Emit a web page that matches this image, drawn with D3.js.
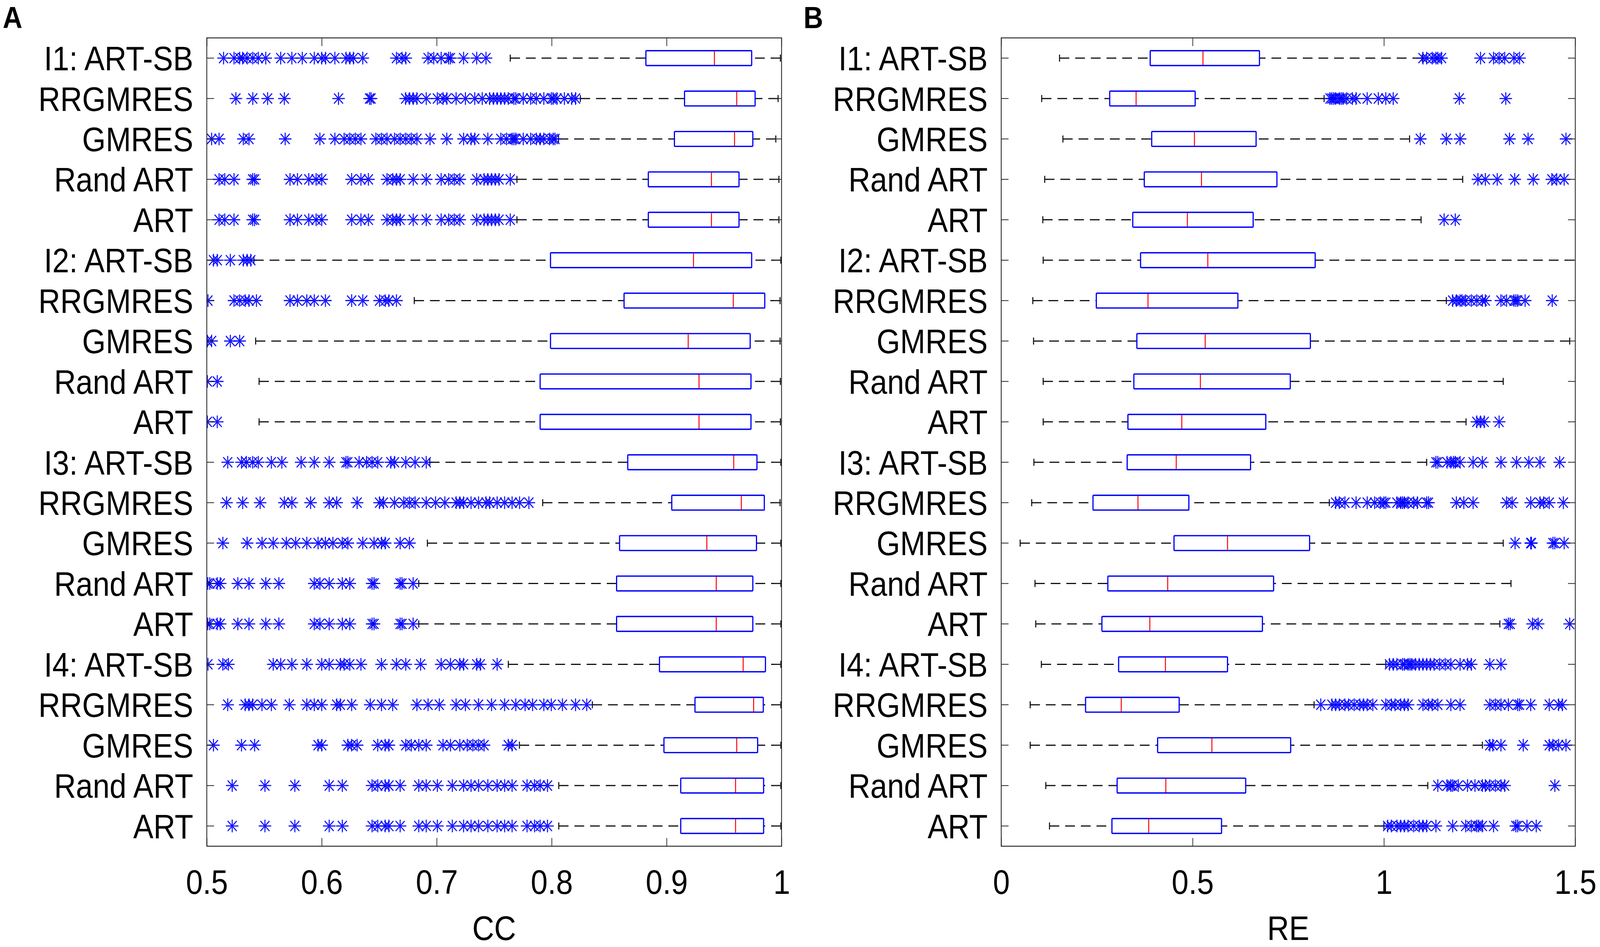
<!DOCTYPE html>
<html>
<head>
<meta charset="utf-8">
<script src="https://cdn.jsdelivr.net/npm/d3@7"></script>
<style>
  html, body { margin: 0; padding: 0; background: #fff; overflow: hidden; width: 100%; height: 100%; }
  svg { display: block; width: 100vw; height: 100vh; }
  text { font-family: "Liberation Sans", Arial, Helvetica, sans-serif; }
</style>
</head>
<body>
<svg id="chart" viewBox="0 0 4596 2424" preserveAspectRatio="none"></svg>
<script>
// ---------------- DATA ----------------
const categories = [
  "I1: ART-SB", "RRGMRES", "GMRES", "Rand ART", "ART",
  "I2: ART-SB", "RRGMRES", "GMRES", "Rand ART", "ART",
  "I3: ART-SB", "RRGMRES", "GMRES", "Rand ART", "ART",
  "I4: ART-SB", "RRGMRES", "GMRES", "Rand ART", "ART"
];

const ccTicks = [0.5, 0.6, 0.7, 0.8, 0.9, 1];
const ccTickLabels = ["0.5", "0.6", "0.7", "0.8", "0.9", "1"];
const reTicks = [0, 0.5, 1, 1.5];
const reTickLabels = ["0", "0.5", "1", "1.5"];

// Panel A: CC
const ccWhiskerLow  = [0.764, 0.825, 0.806, 0.7698, 0.7698, 0.541, 0.6805, 0.5425, 0.5455, 0.5455,
                       0.694, 0.7922, 0.6919, 0.6844, 0.6844, 0.7623, 0.8354, 0.772, 0.8062, 0.8062];
const ccQ1          = [0.882, 0.9156, 0.9068, 0.8841, 0.8841, 0.799, 0.863, 0.799, 0.790, 0.790,
                       0.8662, 0.9045, 0.8591, 0.8565, 0.8565, 0.8938, 0.9247, 0.8977, 0.9123, 0.9123];
const ccMedian      = [0.9416, 0.961, 0.9591, 0.939, 0.939, 0.9234, 0.958, 0.9188, 0.9282, 0.9282,
                       0.9584, 0.965, 0.935, 0.9432, 0.9432, 0.9666, 0.9757, 0.961, 0.960, 0.960];
const ccQ3          = [0.974, 0.977, 0.975, 0.963, 0.963, 0.974, 0.9854, 0.9727, 0.9734, 0.9734,
                       0.9786, 0.985, 0.9782, 0.975, 0.975, 0.986, 0.9841, 0.9792, 0.9844, 0.9844];
const ccWhiskerHigh = [0.999, 0.997, 0.995, 0.9977, 0.9977, 0.9994, 0.9987, 0.9987, 0.999, 0.999,
                       0.9994, 0.9987, 0.9994, 0.9994, 0.9994, 0.9994, 0.9994, 0.9994, 0.9994, 0.9994];
const ccOutliers = [
  [0.5146, 0.5237, 0.5286, 0.5312, 0.5351, 0.540, 0.5448, 0.5513, 0.5643, 0.574, 0.5831, 0.5935, 0.600, 0.6033, 0.6114, 0.6211, 0.6244, 0.6276, 0.6357, 0.665, 0.6698, 0.6731, 0.6925, 0.6974, 0.7039, 0.7104, 0.712, 0.7234, 0.7348, 0.7429],
  [0.5253, 0.540, 0.5529, 0.5675, 0.6146, 0.6416, 0.6429, 0.673, 0.6763, 0.6795, 0.6828, 0.6909, 0.7006, 0.7055, 0.7088, 0.7169, 0.725, 0.7331, 0.7396, 0.7461, 0.7494, 0.7526, 0.7558, 0.7591, 0.7623, 0.7672, 0.7688, 0.7753, 0.7818, 0.7867, 0.7932, 0.7997, 0.8013, 0.8046, 0.8111, 0.8175, 0.8208],
  [0.5042, 0.5107, 0.5318, 0.5367, 0.5682, 0.5984, 0.6114, 0.6195, 0.6244, 0.6292, 0.6341, 0.6471, 0.652, 0.6568, 0.6633, 0.6682, 0.6731, 0.6779, 0.6828, 0.6942, 0.7088, 0.7234, 0.7299, 0.7331, 0.7445, 0.7558, 0.7607, 0.7656, 0.7672, 0.7688, 0.7753, 0.7818, 0.7867, 0.790, 0.7932, 0.7981, 0.8013, 0.8029],
  [0.5107, 0.5156, 0.5237, 0.5399, 0.5416, 0.5724, 0.5789, 0.5887, 0.5951, 0.600, 0.626, 0.6341, 0.6406, 0.6568, 0.6617, 0.665, 0.6682, 0.6796, 0.6909, 0.7039, 0.7104, 0.7153, 0.7201, 0.7348, 0.7412, 0.7445, 0.7477, 0.751, 0.7542, 0.764],
  [0.5107, 0.5156, 0.5237, 0.5399, 0.5416, 0.5724, 0.5789, 0.5887, 0.5951, 0.600, 0.626, 0.6341, 0.6406, 0.6568, 0.6617, 0.665, 0.6682, 0.6796, 0.6909, 0.7039, 0.7104, 0.7153, 0.7201, 0.7348, 0.7412, 0.7445, 0.7477, 0.751, 0.7542, 0.764],
  [0.5058, 0.5091, 0.5205, 0.5318, 0.5351, 0.5383],
  [0.501, 0.5237, 0.5286, 0.5334, 0.5367, 0.5432, 0.5724, 0.5789, 0.587, 0.5935, 0.6032, 0.626, 0.6357, 0.6503, 0.6552, 0.6584, 0.665],
  [0.5005, 0.5042, 0.5205, 0.5286],
  [0.5005, 0.5091],
  [0.5005, 0.5091],
  [0.5182, 0.5302, 0.5344, 0.5399, 0.5448, 0.5562, 0.5653, 0.5821, 0.5935, 0.6065, 0.6211, 0.6227, 0.6325, 0.639, 0.6438, 0.6487, 0.6601, 0.6633, 0.6731, 0.6812, 0.6909],
  [0.5172, 0.5312, 0.5464, 0.5675, 0.574, 0.5903, 0.6065, 0.613, 0.6308, 0.6503, 0.6536, 0.6633, 0.6714, 0.6763, 0.6812, 0.6909, 0.699, 0.7071, 0.7169, 0.7201, 0.7234, 0.7299, 0.7364, 0.7429, 0.7461, 0.7526, 0.7591, 0.7656, 0.7721, 0.7802],
  [0.514, 0.5351, 0.5481, 0.5578, 0.5692, 0.5773, 0.587, 0.5968, 0.6032, 0.6097, 0.6179, 0.6227, 0.6357, 0.6455, 0.652, 0.6552, 0.6682, 0.6763],
  [0.5008, 0.5026, 0.5091, 0.5117, 0.527, 0.5367, 0.5513, 0.5627, 0.5935, 0.5984, 0.6065, 0.6179, 0.6244, 0.6438, 0.6455, 0.6682, 0.6698, 0.6795],
  [0.5008, 0.5026, 0.5091, 0.5117, 0.527, 0.5367, 0.5513, 0.5627, 0.5935, 0.5984, 0.6065, 0.6179, 0.6244, 0.6438, 0.6455, 0.6682, 0.6698, 0.6795],
  [0.501, 0.514, 0.5188, 0.5578, 0.5643, 0.574, 0.587, 0.600, 0.6065, 0.6162, 0.6195, 0.6244, 0.6341, 0.652, 0.665, 0.6731, 0.686, 0.7039, 0.712, 0.7201, 0.7234, 0.7348, 0.738, 0.7526],
  [0.5182, 0.5334, 0.5367, 0.5399, 0.548, 0.5562, 0.5718, 0.587, 0.5935, 0.600, 0.613, 0.6162, 0.626, 0.6422, 0.652, 0.6617, 0.6828, 0.6925, 0.7023, 0.7169, 0.725, 0.7364, 0.7477, 0.7591, 0.7688, 0.7769, 0.7834, 0.7932, 0.7997, 0.8094, 0.8208, 0.8305],
  [0.5058, 0.5302, 0.5416, 0.5968, 0.600, 0.6227, 0.626, 0.6308, 0.6487, 0.6552, 0.6584, 0.6731, 0.6779, 0.6844, 0.6909, 0.7055, 0.712, 0.7201, 0.7266, 0.7315, 0.7364, 0.7412, 0.7623, 0.7656],
  [0.5221, 0.5506, 0.5766, 0.6065, 0.6179, 0.6438, 0.6487, 0.6552, 0.6584, 0.6682, 0.6844, 0.6909, 0.7006, 0.7136, 0.7234, 0.7299, 0.7364, 0.7445, 0.7526, 0.7591, 0.7656, 0.7786, 0.7851, 0.790, 0.7964],
  [0.5221, 0.5506, 0.5766, 0.6065, 0.6179, 0.6438, 0.6487, 0.6552, 0.6584, 0.6682, 0.6844, 0.6909, 0.7006, 0.7136, 0.7234, 0.7299, 0.7364, 0.7445, 0.7526, 0.7591, 0.7656, 0.7786, 0.7851, 0.790, 0.7964]
];

// Panel B: RE
const reWhiskerLow  = [0.1524, 0.1058, 0.1612, 0.1136, 0.1087, 0.1097, 0.0825, 0.0845, 0.1097, 0.1097,
                       0.0854, 0.0796, 0.0495, 0.0883, 0.0903, 0.1049, 0.0757, 0.0757, 0.1165, 0.1262];
const reQ1          = [0.3893, 0.2835, 0.3932, 0.3738, 0.3437, 0.3641, 0.2485, 0.3544, 0.3466, 0.3311,
                       0.3291, 0.2398, 0.4515, 0.2786, 0.2631, 0.3068, 0.2204, 0.4087, 0.3029, 0.2893];
const reMedian      = [0.5272, 0.3524, 0.5049, 0.5233, 0.4864, 0.5398, 0.3835, 0.533, 0.5204, 0.4718,
                       0.4573, 0.3573, 0.5913, 0.435, 0.3883, 0.4291, 0.3136, 0.5505, 0.4301, 0.3854];
const reQ3          = [0.6748, 0.5068, 0.666, 0.7204, 0.6583, 0.8204, 0.6184, 0.8078, 0.7553, 0.6913,
                       0.6515, 0.4903, 0.8058, 0.7117, 0.6825, 0.5913, 0.465, 0.7563, 0.6388, 0.5757];
const reWhiskerHigh = [1.10, 0.8437, 1.067, 1.2058, 1.0971, 1.62, 1.1631, 1.4854, 1.3117, 1.2146,
                       1.1117, 0.8573, 1.3117, 1.332, 1.3029, 1.005, 0.8175, 1.2573, 1.1146, 1.0];
const reOutliers = [
  [1.102, 1.1117, 1.1262, 1.1359, 1.1408, 1.1505, 1.2524, 1.2864, 1.301, 1.3155, 1.3398, 1.3544],
  [0.8592, 0.8641, 0.8689, 0.8738, 0.8835, 0.8883, 0.8932, 0.9029, 0.9175, 0.9272, 0.9563, 0.9854, 1.0049, 1.0243, 1.1971, 1.3184],
  [1.0951, 1.1631, 1.199, 1.3282, 1.3767, 1.4757],
  [1.2456, 1.265, 1.2961, 1.3417, 1.3903, 1.4388, 1.4515, 1.4709],
  [1.1573, 1.1864],
  [],
  [1.1796, 1.1893, 1.199, 1.2039, 1.2136, 1.2282, 1.2427, 1.2573, 1.265, 1.3058, 1.3204, 1.3398, 1.3447, 1.3495, 1.3689, 1.4398],
  [],
  [],
  [1.2427, 1.2524, 1.2621, 1.301],
  [1.1359, 1.1408, 1.165, 1.1748, 1.1816, 1.1864, 1.199, 1.233, 1.2573, 1.3058, 1.3466, 1.3786, 1.4078, 1.4592],
  [0.8738, 0.8835, 0.898, 0.9272, 0.9563, 0.9757, 0.9903, 1.0, 1.0049, 1.034, 1.0437, 1.0485, 1.0534, 1.0631, 1.0777, 1.0874, 1.1117, 1.1165, 1.1893, 1.2087, 1.233, 1.3204, 1.335, 1.3835, 1.4078, 1.4175, 1.432, 1.4689],
  [1.3427, 1.3835, 1.3854, 1.4417, 1.4466, 1.4709],
  [],
  [1.3252, 1.3301, 1.3883, 1.4029, 1.4854],
  [1.0146, 1.0243, 1.034, 1.0485, 1.0534, 1.0631, 1.068, 1.0728, 1.0825, 1.0922, 1.102, 1.1117, 1.1214, 1.1311, 1.1456, 1.1602, 1.1748, 1.199, 1.2184, 1.2282, 1.2767, 1.3058],
  [0.835, 0.8641, 0.8738, 0.8835, 0.898, 0.9078, 0.9223, 0.9369, 0.9466, 0.9563, 0.9709, 1.0049, 1.0194, 1.0291, 1.0437, 1.0534, 1.0631, 1.102, 1.1165, 1.1262, 1.1408, 1.1748, 1.199, 1.2767, 1.2913, 1.3058, 1.3252, 1.3495, 1.3544, 1.3835, 1.432, 1.4563, 1.466],
  [1.2767, 1.2845, 1.3058, 1.3641, 1.432, 1.4417, 1.4563, 1.4757],
  [1.1408, 1.165, 1.1748, 1.1796, 1.1942, 1.2184, 1.2379, 1.2573, 1.265, 1.2767, 1.2913, 1.3058, 1.3155, 1.4466],
  [1.0097, 1.0194, 1.034, 1.0437, 1.0534, 1.0631, 1.0777, 1.0922, 1.102, 1.1117, 1.1359, 1.1796, 1.2136, 1.2282, 1.2427, 1.2476, 1.2573, 1.2864, 1.3447, 1.3495, 1.3738, 1.398]
];

// ---------------- DRAWING ----------------
const svg = d3.select("#chart");
const FONT = 87;
const plotTop = 97, plotBottom = 2166;

function asteriskPath(r) {
  const d = r * 0.72;
  return `M${-r},0L${r},0M0,${-r * 0.9}L0,${r * 0.9}M${-d},${-d}L${d},${d}M${-d},${d}L${d},${-d}`;
}

function drawPanel(cfg) {
  const g = svg.append("g");
  const x = d3.scaleLinear().domain(cfg.domain).range([cfg.left, cfg.right]);
  const y = d3.scaleBand().domain(d3.range(categories.length)).range([plotTop, plotBottom]).paddingInner(0).paddingOuter(0);
  const bw = y.bandwidth();
  const boxH = bw * 0.367;
  const capH = 18;

  const clipId = "clip-" + cfg.id;
  svg.append("defs").append("clipPath").attr("id", clipId)
    .append("rect").attr("x", cfg.left).attr("y", plotTop)
    .attr("width", cfg.right - cfg.left).attr("height", plotBottom - plotTop);

  const plot = g.append("g").attr("clip-path", `url(#${clipId})`);

  const rows = categories.map((c, i) => ({
    i, lo: cfg.wlo[i], q1: cfg.q1[i], med: cfg.med[i], q3: cfg.q3[i], hi: cfg.whi[i], out: cfg.out[i]
  }));

  const row = plot.selectAll("g.row").data(rows).join("g")
    .attr("class", "row")
    .attr("transform", d => `translate(0,${y(d.i) + bw / 2})`);

  const wStyle = sel => sel.attr("stroke", "#111").attr("stroke-width", 3)
    .attr("stroke-dasharray", "28 17").attr("fill", "none");
  row.append("line").attr("x1", d => x(d.lo)).attr("x2", d => x(d.q1)).attr("y1", 0).attr("y2", 0).call(wStyle);
  row.append("line").attr("x1", d => x(d.hi)).attr("x2", d => x(d.q3)).attr("y1", 0).attr("y2", 0).call(wStyle);
  row.append("line").attr("x1", d => x(d.lo)).attr("x2", d => x(d.lo))
    .attr("y1", -capH / 2).attr("y2", capH / 2).attr("stroke", "#111").attr("stroke-width", 3);
  row.append("line").attr("x1", d => x(d.hi)).attr("x2", d => x(d.hi))
    .attr("y1", -capH / 2).attr("y2", capH / 2).attr("stroke", "#111").attr("stroke-width", 3);

  row.append("rect")
    .attr("x", d => x(d.q1)).attr("width", d => x(d.q3) - x(d.q1))
    .attr("y", -boxH / 2).attr("height", boxH)
    .attr("fill", "#fff").attr("stroke", "#0000ff").attr("stroke-width", 3.4)
    .attr("rx", 2);
  row.append("line").attr("x1", d => x(d.med)).attr("x2", d => x(d.med))
    .attr("y1", -boxH / 2 + 1.7).attr("y2", boxH / 2 - 1.7)
    .attr("stroke", "#ff0000").attr("stroke-width", 2.8);

  row.selectAll("path.out").data(d => d.out).join("path")
    .attr("class", "out")
    .attr("transform", v => `translate(${x(v)},0)`)
    .attr("d", asteriskPath(18))
    .attr("fill", "none").attr("stroke", "#0000ff").attr("stroke-width", 3.1)
    .attr("stroke-opacity", 0.9);

  const axStyle = sel => {
    sel.select(".domain").remove();
    sel.selectAll(".tick line").attr("stroke", "#262626").attr("stroke-width", 2);
    sel.selectAll(".tick text").attr("font-size", FONT).attr("fill", "#000")
      .attr("font-family", '"Liberation Sans", Arial, sans-serif');
  };
  g.append("g").attr("transform", `translate(0,${plotBottom})`)
    .call(d3.axisBottom(x).tickValues(cfg.ticks).tickFormat((d, i) => cfg.tickLabels[i])
      .tickSizeInner(-21).tickSizeOuter(0).tickPadding(60))
    .call(axStyle);
  g.append("g").attr("transform", `translate(0,${plotTop})`)
    .call(d3.axisTop(x).tickValues(cfg.ticks).tickFormat("").tickSizeInner(-21).tickSizeOuter(0))
    .call(axStyle);

  const yLabels = d3.scaleBand().domain(categories.map((c, i) => i)).range([plotTop, plotBottom]);
  g.append("g").attr("transform", `translate(${cfg.left},0)`)
    .call(d3.axisLeft(yLabels).tickFormat(i => categories[i]).tickSizeInner(-21).tickSizeOuter(0).tickPadding(39))
    .call(axStyle)
    .call(s => s.selectAll(".tick text").attr("dy", "0.36em"));
  g.append("g").attr("transform", `translate(${cfg.right},0)`)
    .call(d3.axisRight(yLabels).tickFormat("").tickSizeInner(-21).tickSizeOuter(0))
    .call(axStyle);

  g.append("rect").attr("x", cfg.left).attr("y", plotTop)
    .attr("width", cfg.right - cfg.left).attr("height", plotBottom - plotTop)
    .attr("fill", "none").attr("stroke", "#262626").attr("stroke-width", 2.4);

  g.append("text").attr("x", (cfg.left + cfg.right) / 2).attr("y", 2406)
    .attr("text-anchor", "middle").attr("font-size", FONT).attr("fill", "#000")
    .text(cfg.title);

  svg.append("text").attr("x", cfg.letterX).attr("y", 72)
    .attr("font-size", 78).attr("font-weight", "bold").attr("fill", "#000")
    .text(cfg.letter);
}

drawPanel({
  id: "a", letter: "A", letterX: 8, title: "CC",
  domain: [0.5, 1], left: 594, right: 2245,
  ticks: ccTicks, tickLabels: ccTickLabels,
  wlo: ccWhiskerLow, q1: ccQ1, med: ccMedian, q3: ccQ3, whi: ccWhiskerHigh, out: ccOutliers
});
drawPanel({
  id: "b", letter: "B", letterX: 2308, title: "RE",
  domain: [0, 1.5], left: 2876, right: 4525,
  ticks: reTicks, tickLabels: reTickLabels,
  wlo: reWhiskerLow, q1: reQ1, med: reMedian, q3: reQ3, whi: reWhiskerHigh, out: reOutliers
});
</script>
</body>
</html>
